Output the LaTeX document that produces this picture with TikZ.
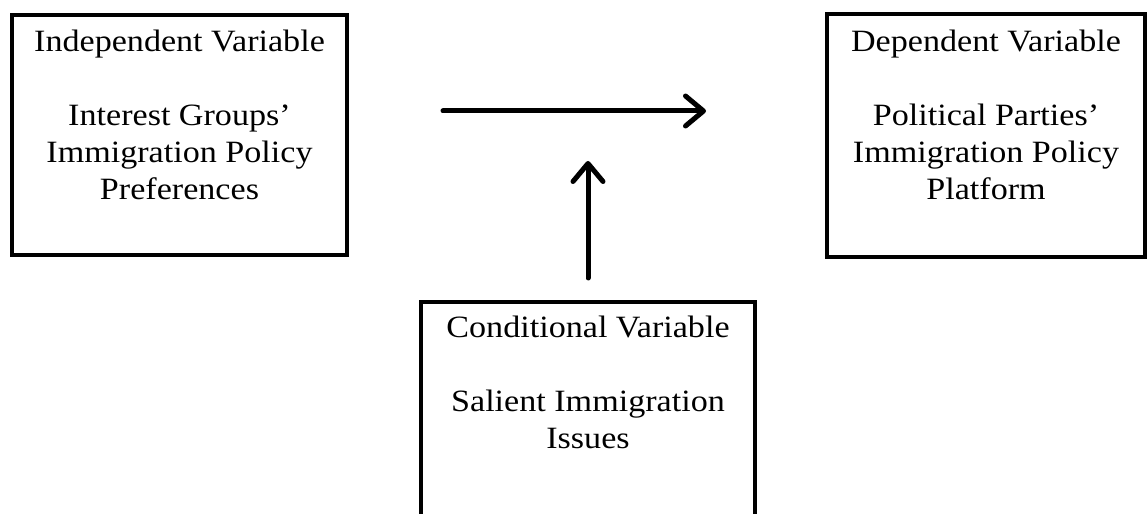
\documentclass[tikz,border=0pt]{standalone}
\usepackage{fontspec}
\setmainfont[FakeStretch=1.1]{Liberation Serif}
\usetikzlibrary{arrows.meta}
\tikzset{
  varbox/.style={draw=black, line width=4.6bp, minimum width=#1, inner sep=0pt},
  vartext/.style={align=center, font=\fontsize{31bp}{37bp}\selectfont, inner sep=0pt, anchor=north},
  bigarrow/.style={line width=5bp, -{Straight Barb[length=18bp,width=30bp,line cap=round,line join=round]}, line cap=round},
}
\begin{document}
\begin{tikzpicture}[x=1bp,y=-1bp]
\useasboundingbox (0,0) rectangle (1148,514);
% boxes
\node[varbox=335bp, minimum height=240bp] (ind) at (179.5,135) {};
\node[varbox=318bp, minimum height=243bp] (dep) at (986,135.5) {};
\node[varbox=334bp, minimum height=240bp] (cond) at (588,422) {};
% texts
\node[vartext] (indt) at (179.5,30) {Independent Variable\\[37bp]Interest Groups’\\Immigration Policy\\Preferences};
\node[vartext] (dept) at (986,30) {Dependent Variable\\[37bp]Political Parties’\\Immigration Policy\\Platform};
\node[vartext] (condt) at (588,316) {Conditional Variable\\[37bp]Salient Immigration\\Issues};
% arrows
\coordinate (h1) at (443,111);
\coordinate (h2) at (706,111);
\coordinate (v1) at (588,278);
\coordinate (v2) at (588,161);
\draw[bigarrow] (h1) -- (h2);
\draw[bigarrow] (v1) -- (v2);
\end{tikzpicture}
\end{document}
